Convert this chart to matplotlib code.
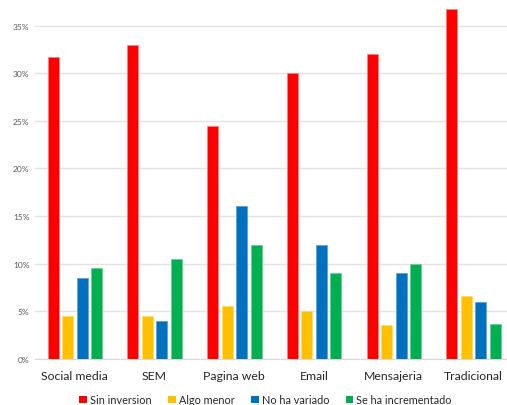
import numpy as np
import matplotlib
matplotlib.use("Agg")
import matplotlib.pyplot as plt
from matplotlib.patches import Patch
from matplotlib.ticker import PercentFormatter

plt.rcParams['font.family'] = ['Lato', 'DejaVu Sans']

# data (fractions)
categories = ['Social media', 'SEM', 'Pagina web', 'Email', 'Mensajeria', 'Tradicional']
series_names = ['Sin inversion', 'Algo menor', 'No ha variado', 'Se ha incrementado']
sin_inversion = [0.317, 0.330, 0.245, 0.300, 0.320, 0.367]
algo_menor = [0.045, 0.045, 0.055, 0.050, 0.035, 0.066]
no_ha_variado = [0.085, 0.040, 0.160, 0.120, 0.090, 0.060]
se_ha_incrementado = [0.095, 0.105, 0.120, 0.090, 0.100, 0.036]

colors = ['#FF0000', '#FFC000', '#0070C0', '#00B050']
edges = ['#FF8080', '#FFD966', '#5B9BD5', '#66CC99']

fig = plt.figure(figsize=(5.07, 4.06), dpi=100)
ax = fig.add_axes([0.069, 0.114, 0.931, 0.879])

x = np.arange(len(categories))
step = 0.182
width = 0.138
all_series = [sin_inversion, algo_menor, no_ha_variado, se_ha_incrementado]
for i, vals in enumerate(all_series):
    ax.bar(x + (i - 1.5) * step, vals, width, color=colors[i],
           edgecolor=edges[i], linewidth=0.5, zorder=3)

ax.set_xlim(-0.5, 5.42)
ax.set_ylim(0, 0.375)
ax.set_yticks(np.arange(0, 0.36, 0.05))
ax.yaxis.set_major_formatter(PercentFormatter(1.0, decimals=0))
ax.set_xticks(x)
ax.set_xticklabels(categories, fontsize=8.8, color='#262626')
ax.tick_params(axis='y', labelsize=6, colors='#595959', length=0, pad=4)
ax.tick_params(axis='x', length=0, pad=8)
ax.grid(axis='y', color='#E3E3E3', linewidth=1, zorder=0)
for s in ['top', 'right', 'left']:
    ax.spines[s].set_visible(False)
ax.spines['bottom'].set_color('#D9D9D9')

handles = [Patch(facecolor=c, edgecolor='none') for c in colors]
fig.legend(handles, series_names, loc='center', bbox_to_anchor=(0.524, 0.013),
           ncol=4, frameon=False, fontsize=7.8, handlelength=0.7, handleheight=0.7,
           handletextpad=0.3, columnspacing=1.5, labelcolor='#262626')

fig.savefig('out.png', dpi=100)
